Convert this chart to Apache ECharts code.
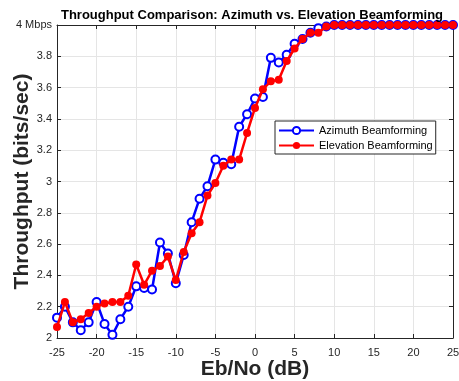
<!DOCTYPE html>
<html>
<head>
<meta charset="utf-8">
<script src="https://cdn.jsdelivr.net/npm/echarts@6/dist/echarts.min.js"></script>
<style>
  html, body { margin: 0; padding: 0; background: #fff; }
  #chart { width: 459px; height: 381px; }
</style>
</head>
<body>
<div id="chart"></div>
<script>
// Eb/No sweep in dB
const ebNo = [
  -25, -24, -23, -22, -21, -20, -19, -18, -17, -16,
  -15, -14, -13, -12, -11, -10, -9, -8, -7, -6,
  -5, -4, -3, -2, -1, 0, 1, 2, 3, 4,
  5, 6, 7, 8, 9, 10, 11, 12, 13, 14,
  15, 16, 17, 18, 19, 20, 21, 22, 23, 24, 25
];

// Throughput (Mbps) for azimuth beamforming
const azimuth = [
  2.13, 2.20, 2.10, 2.05, 2.10, 2.23, 2.09, 2.02, 2.12, 2.20,
  2.33, 2.32, 2.31, 2.61, 2.54, 2.35, 2.53, 2.74, 2.89, 2.97,
  3.14, 3.12, 3.11, 3.35, 3.43, 3.53, 3.54, 3.79, 3.76, 3.81,
  3.88, 3.91, 3.95, 3.98, 3.99, 4.00, 4.00, 4.00, 4.00, 4.00,
  4.00, 4.00, 4.00, 4.00, 4.00, 4.00, 4.00, 4.00, 4.00, 4.00, 4.00
];

// Throughput (Mbps) for elevation beamforming
const elevation = [
  2.07, 2.23, 2.10, 2.12, 2.16, 2.20, 2.22, 2.23, 2.23, 2.27,
  2.47, 2.34, 2.43, 2.46, 2.52, 2.37, 2.55, 2.67, 2.74, 2.91,
  2.99, 3.10, 3.14, 3.14, 3.31, 3.47, 3.59, 3.64, 3.65, 3.77,
  3.85, 3.91, 3.95, 3.95, 3.99, 4.00, 4.00, 4.00, 4.00, 4.00,
  4.00, 4.00, 4.00, 4.00, 4.00, 4.00, 4.00, 4.00, 4.00, 4.00, 4.00
];

const seriesNames = ['Azimuth Beamforming', 'Elevation Beamforming'];
const titleText = 'Throughput Comparison: Azimuth vs. Elevation Beamforming';
const xName = 'Eb/No (dB)';
const yName = 'Throughput (bits/sec)';
const yTopLabel = '4 Mbps';

const FONT = '"Liberation Sans", Arial, Helvetica, sans-serif';
const AX = '#262626';
const GRID = '#e5e5e5';

const pairs = (ys) => ebNo.map((x, i) => [x, ys[i]]);

const chart = echarts.init(document.getElementById('chart'), null, { renderer: 'canvas' });

const boxAxis = {
  axisLine: { show: true, onZero: false, lineStyle: { color: AX, width: 1 } },
  axisTick: { show: true, inside: true, length: 4, lineStyle: { color: AX } },
  axisLabel: { show: false },
  splitLine: { show: false }
};

chart.setOption({
  animation: false,
  textStyle: { fontFamily: FONT },
  title: {
    text: titleText,
    left: 252,
    top: 9,
    textAlign: 'center',
    padding: 0,
    textStyle: { fontFamily: FONT, fontSize: 13, fontWeight: 'bold', color: '#000' }
  },
  grid: { left: 57, right: 6, top: 25, bottom: 43, containLabel: false, outerBoundsMode: 'none' },
  legend: {
    orient: 'vertical',
    left: 275,
    top: 121,
    padding: [4, 3, 3, 3],
    itemWidth: 35,
    itemHeight: 9,
    itemGap: 4,
    backgroundColor: '#fff',
    borderColor: AX,
    borderWidth: 1,
    borderRadius: 0,
    textStyle: { fontFamily: FONT, fontSize: 11, color: '#000' },
    data: seriesNames
  },
  xAxis: [
    {
      type: 'value', min: -25, max: 25, interval: 5,
      name: xName, nameLocation: 'middle', nameGap: 21, nameMoveOverlap: false,
      nameTextStyle: { fontFamily: FONT, fontSize: 21, fontWeight: 'bold', color: AX },
      axisLine: { show: true, onZero: false, lineStyle: { color: AX, width: 1 } },
      axisTick: { show: true, inside: true, length: 4, lineStyle: { color: AX } },
      axisLabel: { fontFamily: FONT, fontSize: 11, color: AX, margin: 9 },
      splitLine: { show: true, lineStyle: { color: GRID, width: 1 } }
    },
    Object.assign({ type: 'value', min: -25, max: 25, interval: 5, position: 'top' }, boxAxis)
  ],
  yAxis: [
    {
      type: 'value', min: 2, max: 4, interval: 0.2,
      name: yName, nameLocation: 'middle', nameGap: 24, nameMoveOverlap: false,
      nameTextStyle: { fontFamily: FONT, fontSize: 21, fontWeight: 'bold', color: AX },
      axisLine: { show: true, onZero: false, lineStyle: { color: AX, width: 1 } },
      axisTick: { show: true, inside: true, length: 4, lineStyle: { color: AX } },
      axisLabel: {
        fontFamily: FONT, fontSize: 11, color: AX, margin: 5,
        formatter: (v) => (Math.abs(v - 4) < 1e-9 ? yTopLabel : String(+v.toFixed(1)))
      },
      splitLine: { show: true, lineStyle: { color: GRID, width: 1 } }
    },
    Object.assign({ type: 'value', min: 2, max: 4, interval: 0.2, position: 'right' }, boxAxis)
  ],
  series: [
    {
      name: seriesNames[0],
      type: 'line',
      data: pairs(azimuth),
      clip: false,
      symbol: 'emptyCircle',
      symbolSize: 8,
      color: '#0000ff',
      lineStyle: { color: '#0000ff', width: 2.5 },
      itemStyle: { color: '#0000ff', borderColor: '#0000ff', borderWidth: 2 },
      z: 2
    },
    {
      name: seriesNames[1],
      type: 'line',
      data: pairs(elevation),
      clip: false,
      symbol: 'circle',
      symbolSize: 8,
      color: '#ff0000',
      lineStyle: { color: '#ff0000', width: 2.5 },
      itemStyle: { color: '#ff0000' },
      z: 3
    }
  ]
});
</script>
</body>
</html>
